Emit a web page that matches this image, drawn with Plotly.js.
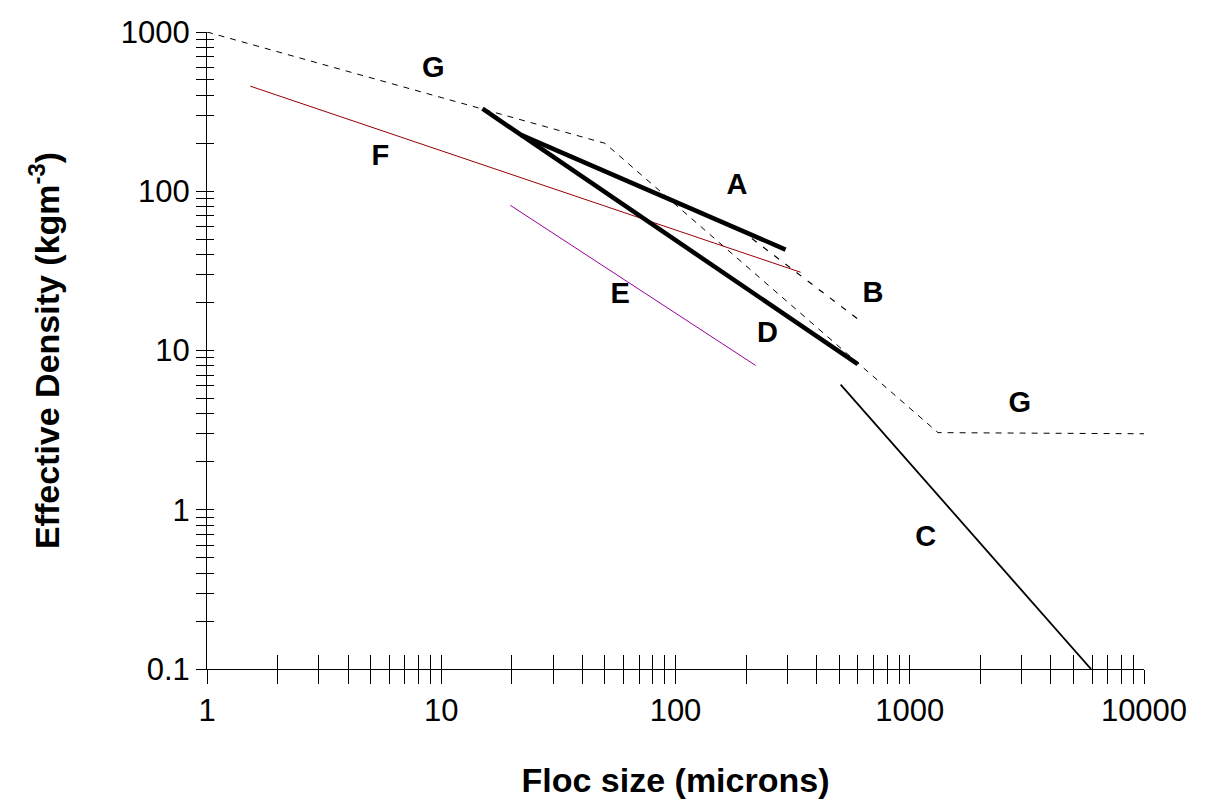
<!DOCTYPE html>
<html>
<head>
<script src="https://cdn.plot.ly/plotly-3.0.1.min.js"></script>
<style>body{margin:0;background:#fff}</style>
</head>
<body>
<div id="chart" style="width:1212px;height:807px"></div>
<script>
// line end points: [x, y]
var lineA = [[22, 225], [295, 43]];
var lineB = [[190, 57], [620, 15.2]];
var lineC = [[507, 6.1], [5940, 0.1]];
var lineD = [[15, 330], [600, 8.2]];
var lineE = [[19.7, 81.7], [220, 8.05]];
var lineF = [[1.53, 457], [342, 31]];
var lineG = [[1, 1000], [18.8, 300], [50, 200], [1320, 3.05], [10000, 3]];

var labelText = ['G', 'F', 'A', 'B', 'E', 'D', 'G', 'C'];
var labelX = [9.25, 5.5, 183, 696, 58, 247, 2950, 1170];
var labelY = [577, 162, 106, 22.5, 22, 12.6, 4.57, 0.66];

function tr(pts, color, width, dash) {
  return {
    x: pts.map(function(p){return p[0];}),
    y: pts.map(function(p){return p[1];}),
    mode: 'lines', type: 'scatter', hoverinfo: 'skip',
    line: {color: color, width: width, dash: dash || 'solid'}
  };
}

function logTicks(lo, hi) {
  var vals = [], text = [];
  for (var e = lo; e < hi; e++) {
    for (var m = 1; m < 10; m++) {
      var v = m * Math.pow(10, e);
      vals.push(v);
      text.push(m === 1 ? String(Math.round(v * 10) / 10) : '');
    }
  }
  vals.push(Math.pow(10, hi));
  text.push(String(Math.pow(10, hi)));
  return {vals: vals, text: text};
}
var xt = logTicks(0, 4);
var yt = logTicks(-1, 3);

var data = [
  tr(lineG, 'black', 1, '6px,6px'),
  tr(lineF, '#990000', 1),
  tr(lineE, '#990099', 1),
  tr(lineA, 'black', 4.5),
  tr(lineD, 'black', 4.5),
  tr(lineB, 'black', 1.2, '6px,8px'),
  tr(lineC, 'black', 1.8),
  {x: labelX, y: labelY, text: labelText, mode: 'text', type: 'scatter',
   textfont: {family: 'Liberation Sans, Arial', size: 29, color: 'black', weight: 'bold'},
   hoverinfo: 'skip'},
  // dummy trace on the overlay axes so the inner ticks are drawn
  {x: [1], y: [1], xaxis: 'x2', yaxis: 'y2', mode: 'markers', marker: {opacity: 0}, hoverinfo: 'skip'}
];

var axisFont = {family: 'Liberation Sans, Arial', size: 31, color: 'black'};
var titleFont = {family: 'Liberation Sans, Arial', size: 34, color: 'black', weight: 'bold'};

var layout = {
  width: 1212, height: 807,
  margin: {l: 207, r: 68, t: 32, b: 138},
  paper_bgcolor: 'white', plot_bgcolor: 'white',
  showlegend: false,
  xaxis: {
    type: 'log', range: [0, 4], tickmode: 'array', tickvals: xt.vals, ticktext: xt.text,
    ticks: 'outside', ticklen: 14, tickcolor: 'black', showgrid: false, zeroline: false,
    showline: true, linecolor: 'black', linewidth: 1, tickfont: axisFont,
    title: {text: 'Floc size (microns)', font: titleFont, standoff: 40}
  },
  yaxis: {
    type: 'log', range: [-1, 3], tickmode: 'array', tickvals: yt.vals, ticktext: yt.text,
    ticks: 'outside', ticklen: 10, tickcolor: 'black', showgrid: false, zeroline: false,
    showline: true, linecolor: 'black', linewidth: 1, tickfont: axisFont,
    title: {text: 'Effective Density (kgm<sup>-3</sup>)', font: titleFont, standoff: 50}
  },
  xaxis2: {
    type: 'log', range: [0, 4], overlaying: 'x', anchor: 'y2', tickmode: 'array', tickvals: xt.vals,
    ticks: 'inside', ticklen: 14, tickcolor: 'black', showticklabels: false, showgrid: false, zeroline: false
  },
  yaxis2: {
    type: 'log', range: [-1, 3], overlaying: 'y', anchor: 'x2', tickmode: 'array', tickvals: yt.vals,
    ticks: 'inside', ticklen: 7, tickcolor: 'black', showticklabels: false, showgrid: false, zeroline: false
  }
};

Plotly.newPlot('chart', data, layout, {staticPlot: true});
</script>
</body>
</html>
